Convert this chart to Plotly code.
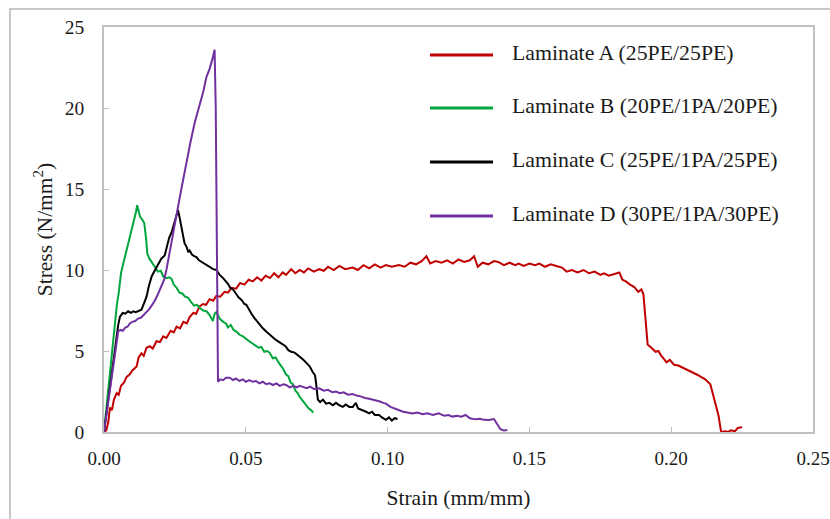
import plotly.graph_objects as go

# ---------------- data ----------------
series_names = [
    "Laminate A (25PE/25PE)",
    "Laminate B (20PE/1PA/20PE)",
    "Laminate C (25PE/1PA/25PE)",
    "Laminate D (30PE/1PA/30PE)",
]

strain_a = [0.0000, 0.0008, 0.0015, 0.0021, 0.0028, 0.0035, 0.0045, 0.0052, 0.0060, 0.0070,
            0.0080, 0.0090, 0.0100, 0.0115, 0.0122, 0.0132, 0.0140, 0.0150, 0.0162, 0.0172,
            0.0185, 0.0197, 0.0209, 0.0220, 0.0235, 0.0246, 0.0256, 0.0268, 0.0280, 0.0292,
            0.0302, 0.0315, 0.0325, 0.0337, 0.0349, 0.0360, 0.0372, 0.0385, 0.0396, 0.0410,
            0.0425, 0.0437, 0.0450, 0.0466, 0.0480, 0.0495, 0.0510, 0.0525, 0.0540, 0.0555,
            0.0570, 0.0585, 0.0600, 0.0615, 0.0630, 0.0642, 0.0660, 0.0675, 0.0690, 0.0705,
            0.0720, 0.0740, 0.0759, 0.0775, 0.0790, 0.0810, 0.0830, 0.0850, 0.0877, 0.0895,
            0.0915, 0.0935, 0.0955, 0.0975, 0.0994, 0.1015, 0.1040, 0.1060, 0.1080, 0.1100,
            0.1120, 0.1137, 0.1150, 0.1170, 0.1190, 0.1210, 0.1230, 0.1250, 0.1270, 0.1290,
            0.1305, 0.1318, 0.1335, 0.1355, 0.1375, 0.1390, 0.1410, 0.1430, 0.1450, 0.1462,
            0.1480, 0.1500, 0.1520, 0.1535, 0.1555, 0.1575, 0.1595, 0.1615, 0.1631, 0.1650,
            0.1670, 0.1691, 0.1710, 0.1730, 0.1750, 0.1763, 0.1780, 0.1800, 0.1817, 0.1828,
            0.1840, 0.1855, 0.1870, 0.1884, 0.1895, 0.1902, 0.1908, 0.1912, 0.1917, 0.1930,
            0.1945, 0.1955, 0.1965, 0.1975, 0.1983, 0.1995, 0.2010, 0.2025, 0.2043, 0.2060,
            0.2075, 0.2090, 0.2105, 0.2120, 0.2138, 0.2145, 0.2155, 0.2167, 0.2176, 0.2190,
            0.2200, 0.2210, 0.2225, 0.2235, 0.2250]
stress_a = [0.00, 0.10, 0.60, 1.50, 1.35, 2.00, 2.40, 2.30, 2.85, 3.05,
            3.40, 3.55, 3.80, 4.05, 4.60, 4.85, 4.70, 5.20, 5.30, 5.15,
            5.60, 5.55, 5.90, 5.80, 6.25, 6.15, 6.50, 6.40, 6.80, 6.70,
            7.10, 7.35, 7.30, 7.75, 7.90, 7.85, 8.20, 8.10, 8.40, 8.35,
            8.65, 8.60, 8.90, 8.85, 9.20, 9.10, 9.40, 9.30, 9.55, 9.35,
            9.65, 9.50, 9.80, 9.55, 9.85, 9.70, 10.05, 9.80, 10.00, 9.85,
            10.10, 9.90, 10.05, 9.95, 10.20, 10.00, 10.25, 10.05, 10.15, 10.00,
            10.30, 10.10, 10.35, 10.15, 10.30, 10.20, 10.30, 10.20, 10.45, 10.35,
            10.55, 10.85, 10.40, 10.55, 10.45, 10.60, 10.40, 10.65, 10.50, 10.60,
            10.85, 10.20, 10.45, 10.35, 10.55, 10.50, 10.30, 10.45, 10.30, 10.40,
            10.25, 10.40, 10.30, 10.40, 10.20, 10.35, 10.25, 10.15, 9.90, 10.00,
            9.85, 10.00, 9.80, 9.90, 9.70, 9.80, 9.65, 9.75, 9.85, 9.40,
            9.30, 9.10, 8.95, 8.65, 8.80, 8.50, 7.40, 6.20, 5.40, 5.20,
            4.95, 5.00, 4.70, 4.50, 4.30, 4.45, 4.15, 4.10, 3.95, 3.85,
            3.70, 3.55, 3.40, 3.25, 2.95, 2.50, 1.75, 1.00, 0.00, 0.05,
            0.00, 0.10, 0.05, 0.25, 0.30]

strain_b = [0.0000, 0.0010, 0.0020, 0.0030, 0.0039, 0.0045, 0.0052, 0.0060, 0.0068, 0.0075,
            0.0082, 0.0090, 0.0095, 0.0102, 0.0108, 0.0113, 0.0117, 0.0122, 0.0127, 0.0135,
            0.0142, 0.0148, 0.0153, 0.0160, 0.0170, 0.0179, 0.0190, 0.0200, 0.0209, 0.0220,
            0.0230, 0.0238, 0.0246, 0.0256, 0.0266, 0.0276, 0.0286, 0.0296, 0.0308, 0.0318,
            0.0328, 0.0338, 0.0350, 0.0362, 0.0373, 0.0384, 0.0390, 0.0396, 0.0408, 0.0420,
            0.0430, 0.0437, 0.0447, 0.0457, 0.0467, 0.0478, 0.0490, 0.0500, 0.0512, 0.0525,
            0.0535, 0.0545, 0.0555, 0.0565, 0.0575, 0.0584, 0.0595, 0.0605, 0.0619, 0.0630,
            0.0642, 0.0650, 0.0658, 0.0666, 0.0675, 0.0683, 0.0689, 0.0700, 0.0713, 0.0722,
            0.0730, 0.0738]
stress_b = [0.00, 1.80, 3.60, 5.40, 7.10, 7.80, 8.60, 9.80, 10.40, 10.90,
            11.40, 11.90, 12.30, 12.70, 13.30, 13.60, 14.00, 13.60, 13.30, 13.10,
            12.90, 12.00, 11.00, 10.70, 10.40, 10.20, 9.90, 9.95, 9.60, 9.50,
            9.55, 9.45, 9.10, 8.90, 8.60, 8.55, 8.35, 8.30, 8.00, 7.80,
            7.85, 7.65, 7.50, 7.45, 7.20, 6.85, 7.30, 7.40, 7.00, 6.80,
            6.70, 6.45, 6.60, 6.30, 6.20, 6.00, 5.90, 5.75, 5.60, 5.45,
            5.35, 5.20, 5.25, 4.95, 5.00, 4.90, 4.55, 4.60, 4.20, 3.95,
            3.55, 3.45, 3.05, 2.95, 2.55, 2.40, 2.20, 1.95, 1.70, 1.45,
            1.35, 1.20]

strain_c = [0.0000, 0.0010, 0.0020, 0.0030, 0.0040, 0.0050, 0.0056, 0.0066, 0.0075, 0.0085,
            0.0095, 0.0103, 0.0112, 0.0122, 0.0132, 0.0140, 0.0150, 0.0158, 0.0168, 0.0180,
            0.0191, 0.0202, 0.0214, 0.0222, 0.0230, 0.0238, 0.0246, 0.0254, 0.0261, 0.0267,
            0.0273, 0.0279, 0.0284, 0.0292, 0.0297, 0.0302, 0.0310, 0.0318, 0.0326, 0.0335,
            0.0345, 0.0355, 0.0365, 0.0375, 0.0385, 0.0396, 0.0408, 0.0420, 0.0430, 0.0437,
            0.0445, 0.0455, 0.0465, 0.0475, 0.0485, 0.0495, 0.0502, 0.0512, 0.0520, 0.0530,
            0.0537, 0.0548, 0.0560, 0.0572, 0.0584, 0.0595, 0.0605, 0.0618, 0.0630, 0.0640,
            0.0650, 0.0660, 0.0672, 0.0680, 0.0689, 0.0700, 0.0712, 0.0725, 0.0736, 0.0744,
            0.0748, 0.0751, 0.0754, 0.0762, 0.0772, 0.0783, 0.0795, 0.0807, 0.0818, 0.0830,
            0.0842, 0.0852, 0.0865, 0.0877, 0.0888, 0.0896, 0.0905, 0.0915, 0.0924, 0.0935,
            0.0945, 0.0955, 0.0970, 0.0980, 0.0994, 0.1005, 0.1015, 0.1025, 0.1035]
stress_c = [0.00, 1.30, 2.70, 4.10, 5.50, 6.60, 7.10, 7.35, 7.30, 7.45,
            7.35, 7.45, 7.40, 7.50, 7.55, 7.90, 8.35, 9.00, 9.60, 10.00,
            10.40, 10.70, 10.90, 11.50, 12.00, 12.30, 12.80, 13.30, 13.70, 13.20,
            12.70, 12.10, 11.65, 11.40, 11.10, 11.20, 10.95, 10.85, 10.80, 10.60,
            10.50, 10.40, 10.30, 10.15, 10.05, 10.00, 9.70, 9.50, 9.30, 9.15,
            8.90, 8.80, 8.55, 8.30, 8.15, 7.90, 7.85, 7.50, 7.30, 7.05,
            6.90, 6.60, 6.40, 6.20, 6.00, 5.85, 5.70, 5.55, 5.40, 5.30,
            5.05, 4.95, 4.90, 4.80, 4.65, 4.50, 4.30, 4.05, 3.70, 3.50,
            3.00, 2.40, 2.00, 1.85, 2.00, 1.75, 1.80, 1.65, 1.80, 1.65,
            1.55, 1.70, 1.55, 1.55, 1.80, 1.45, 1.40, 1.30, 1.25, 1.15,
            1.25, 1.05, 1.05, 0.90, 0.75, 0.90, 0.70, 0.85, 0.80]

strain_d = [0.0000, 0.0010, 0.0020, 0.0030, 0.0040, 0.0050, 0.0058, 0.0066, 0.0075, 0.0083,
            0.0091, 0.0100, 0.0110, 0.0120, 0.0130, 0.0138, 0.0148, 0.0158, 0.0168, 0.0179,
            0.0190, 0.0197, 0.0203, 0.0212, 0.0220, 0.0230, 0.0240, 0.0250, 0.0261, 0.0275,
            0.0290, 0.0305, 0.0320, 0.0337, 0.0350, 0.0361, 0.0372, 0.0382, 0.0390, 0.0394,
            0.0398, 0.0400, 0.0402, 0.0410, 0.0420, 0.0430, 0.0443, 0.0455, 0.0465, 0.0478,
            0.0490, 0.0500, 0.0512, 0.0524, 0.0536, 0.0548, 0.0560, 0.0572, 0.0584, 0.0596,
            0.0608, 0.0620, 0.0632, 0.0642, 0.0655, 0.0668, 0.0680, 0.0690, 0.0701, 0.0715,
            0.0727, 0.0740, 0.0759, 0.0775, 0.0790, 0.0805, 0.0818, 0.0832, 0.0845, 0.0860,
            0.0877, 0.0890, 0.0905, 0.0920, 0.0935, 0.0950, 0.0970, 0.0985, 0.0994, 0.1010,
            0.1025, 0.1040, 0.1055, 0.1070, 0.1088, 0.1105, 0.1123, 0.1140, 0.1160, 0.1180,
            0.1200, 0.1215, 0.1228, 0.1245, 0.1260, 0.1275, 0.1290, 0.1310, 0.1325, 0.1340,
            0.1357, 0.1375, 0.1387, 0.1398, 0.1410, 0.1422]
stress_d = [0.00, 1.20, 2.50, 3.80, 5.10, 6.20, 6.30, 6.25, 6.45, 6.50,
            6.70, 6.80, 6.85, 7.00, 7.05, 7.20, 7.35, 7.55, 7.80, 8.10,
            8.50, 8.80, 9.00, 9.40, 10.00, 11.00, 12.00, 12.90, 13.90, 15.20,
            16.60, 17.90, 19.10, 20.10, 21.00, 21.90, 22.40, 23.00, 23.60, 20.00,
            12.00, 5.00, 3.10, 3.25, 3.20, 3.35, 3.35, 3.20, 3.30, 3.15,
            3.25, 3.10, 3.20, 3.10, 3.15, 3.00, 3.10, 2.95, 3.00, 2.90,
            3.00, 2.85, 2.95, 2.90, 2.75, 2.85, 2.75, 2.85, 2.80, 2.70,
            2.80, 2.65, 2.70, 2.55, 2.60, 2.45, 2.50, 2.40, 2.45, 2.30,
            2.35, 2.25, 2.20, 2.10, 2.05, 2.00, 1.90, 1.80, 1.75, 1.55,
            1.45, 1.35, 1.25, 1.20, 1.15, 1.20, 1.10, 1.15, 1.05, 1.15,
            1.00, 1.05, 0.95, 1.00, 0.95, 1.05, 0.85, 0.78, 0.82, 0.75,
            0.74, 0.80, 0.45, 0.17, 0.10, 0.12]

x_tick_vals = [0.00, 0.05, 0.10, 0.15, 0.20, 0.25]
x_tick_text = ["0.00", "0.05", "0.10", "0.15", "0.20", "0.25"]
y_tick_vals = [0, 5, 10, 15, 20, 25]

# ---------------- styling ----------------
colors = ["#C00000", "#00A63C", "#000000", "#7030A0"]
FONT = "Liberation Serif, Times New Roman, serif"
TXT = "#1a1a1a"
GRID = "#BFBFBF"

W, H = 830, 519
ML, MR, MT, MB = 104, 17, 27, 87
PW, PH = W - ML - MR, H - MT - MB

def px_to_paper_x(px):
    return (px - ML) / PW

def px_to_paper_y(py):
    return (H - MB - py) / PH

fig = go.Figure()
all_x = [strain_a, strain_b, strain_c, strain_d]
all_y = [stress_a, stress_b, stress_c, stress_d]
for name, xs, ys, col in zip(series_names, all_x, all_y, colors):
    fig.add_trace(go.Scatter(x=xs, y=ys, mode="lines", name=name,
                             line=dict(color=col, width=2), showlegend=False))

# custom legend (long line samples, as in the reference)
shapes = []
annotations = []
legend_rows_px = [55, 108, 162, 216]
for name, col, ry in zip(series_names, colors, legend_rows_px):
    shapes.append(dict(type="line", xref="paper", yref="paper",
                       x0=px_to_paper_x(430), x1=px_to_paper_x(493),
                       y0=px_to_paper_y(ry), y1=px_to_paper_y(ry),
                       line=dict(color=col, width=3)))
    annotations.append(dict(xref="paper", yref="paper",
                            x=px_to_paper_x(510), y=px_to_paper_y(ry - 2),
                            xanchor="left", yanchor="middle", showarrow=False,
                            text=name, font=dict(family=FONT, size=21.8, color=TXT)))

# outer chart frame
shapes.append(dict(type="rect", xref="paper", yref="paper", layer="below",
                   x0=px_to_paper_x(10), x1=px_to_paper_x(850),
                   y0=px_to_paper_y(540), y1=px_to_paper_y(9),
                   line=dict(color="#C8C8C8", width=2), fillcolor="rgba(0,0,0,0)"))

fig.update_layout(
    width=W, height=H,
    margin=dict(l=ML, r=MR, t=MT, b=MB, autoexpand=False),
    paper_bgcolor="white", plot_bgcolor="white",
    font=dict(family=FONT, color=TXT),
    shapes=shapes, annotations=annotations,
    showlegend=False,
)
fig.update_xaxes(
    range=[0, 0.25], tickvals=x_tick_vals, ticktext=x_tick_text,
    showgrid=False, zeroline=False, automargin=False,
    showline=True, linecolor=GRID, linewidth=1.5, mirror=True,
    ticks="inside", ticklen=5, tickcolor=GRID, tickwidth=1,
    tickfont=dict(family=FONT, size=19, color=TXT),
    ticklabelstandoff=8, ticklabeloverflow="allow",
    title=dict(text="Strain (mm/mm)", font=dict(family=FONT, size=21.5, color=TXT), standoff=22),
)
fig.update_yaxes(
    range=[0, 25], tickvals=y_tick_vals,
    showgrid=False, zeroline=False, automargin=False,
    showline=True, linecolor=GRID, linewidth=1.5, mirror=True,
    ticks="inside", ticklen=5, tickcolor=GRID, tickwidth=1,
    tickfont=dict(family=FONT, size=19.5, color=TXT),
    ticklabelstandoff=14, ticklabeloverflow="allow",
    title=dict(text="Stress (N/mm<sup>2</sup>)", font=dict(family=FONT, size=21.5, color=TXT), standoff=6),
)

fig.write_html(
    "out.html",
    config={"displayModeBar": False},
    post_script="document.body.style.margin='0px';document.body.style.padding='0px';document.body.style.overflow='hidden';",
)
